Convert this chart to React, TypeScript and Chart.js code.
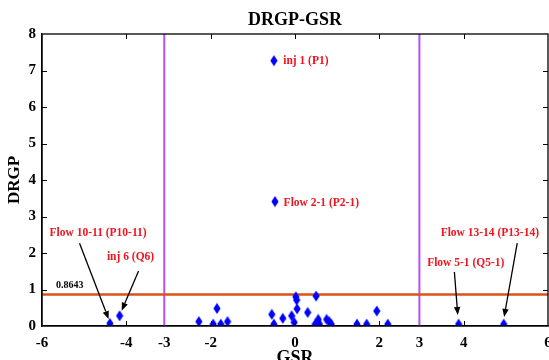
import React, { useEffect, useRef } from 'react';
import { Chart, registerables } from 'chart.js';

Chart.register(...registerables);

// ---- Data ----
const GSR_X = [
  -4.39, -4.16, -2.28, -1.94, -1.85, -1.76, -1.6, -0.55, -0.5, -0.29, -0.08, -0.02,
  0.02, 0.04, 0.05, 0.3, 0.5, 0.48, 0.55, 0.58, 0.75, 0.81, 0.86, 1.47, 1.7, 1.94,
  2.2, 3.88, 4.95, -0.5, -0.475,
];
const DRGP_Y = [
  0.07, 0.28, 0.12, 0.05, 0.48, 0.05, 0.12, 0.32, 0.05, 0.21, 0.28, 0.1,
  0.8, 0.71, 0.47, 0.37, 0.82, 0.05, 0.18, 0.05, 0.18, 0.12, 0.05, 0.05, 0.05, 0.41,
  0.05, 0.05, 0.05, 7.27, 3.41,
];

const X_TICK_VALUES = [-6, -4, -3.1, -2, 0, 2, 2.95, 4, 6];
const X_TICK_LABELS = ['-6', '-4', '-3', '-2', '0', '2', '3', '4', '6'];
const X_MINOR_MARKS = [-4, -2, 0, 2, 4];
const Y_TICK_VALUES = [0, 1, 2, 3, 4, 5, 6, 7, 8];
const Y_MARKS = [1, 2, 3, 4, 5, 6, 7];

const VLINE_X = [-3.1, 2.95];
const HLINE_Y = 0.8643;
const HLINE_LABEL = '0.8643';
const HLINE_LABEL_X = -5.34;
const HLINE_LABEL_Y = 1.12;

const NOTE_TEXTS = ['inj 1 (P1)', 'Flow 2-1 (P2-1)', 'Flow 10-11 (P10-11)', 'inj 6 (Q6)', 'Flow 5-1 (Q5-1)', 'Flow 13-14 (P13-14)'];
const NOTE_X = [-0.28, -0.27, -4.67, -3.9, 4.05, 4.62];
const NOTE_Y = [7.27, 3.37, 2.55, 1.88, 1.72, 2.54];
const NOTE_ALIGN: CanvasTextAlign[] = ['left', 'left', 'center', 'center', 'center', 'center'];

const ARROW_FROM_X = [-5.11, -3.71, 3.78, 5.27];
const ARROW_FROM_Y = [2.27, 1.51, 1.48, 2.27];
const ARROW_TO_X = [-4.42, -4.11, 3.86, 4.96];
const ARROW_TO_Y = [0.19, 0.42, 0.3, 0.25];

const SERIF = '"Liberation Serif", "Times New Roman", serif';
const PURPLE = 'rgb(178, 82, 240)';
const ORANGE = '#D95319';
const RED = '#F0141E';

function makeDiamond(): HTMLCanvasElement {
  const c = document.createElement('canvas');
  c.width = 8;
  c.height = 12;
  const g = c.getContext('2d')!;
  g.fillStyle = '#0000FF';
  g.beginPath();
  g.moveTo(4, 0.5);
  g.lineTo(7.6, 6);
  g.lineTo(4, 11.5);
  g.lineTo(0.4, 6);
  g.closePath();
  g.fill();
  return c;
}

const zeroPadding = () => ({ left: 0, top: 0, right: 0, bottom: 0 });

const framePlugin = {
  id: 'framePlugin',
  afterDraw(chart: any) {
    const { ctx, chartArea: a, scales } = chart;
    const xs = scales.x;
    const ys = scales.y;
    ctx.save();
    // box
    ctx.strokeStyle = '#000';
    ctx.lineWidth = 1.3;
    ctx.strokeRect(a.left, a.top, a.right - a.left, a.bottom - a.top);
    // inward ticks
    const tl = 5;
    ctx.beginPath();
    X_MINOR_MARKS.forEach((v) => {
      const px = Math.round(xs.getPixelForValue(v)) + 0.5;
      ctx.moveTo(px, a.bottom);
      ctx.lineTo(px, a.bottom - tl);
      ctx.moveTo(px, a.top);
      ctx.lineTo(px, a.top + tl);
    });
    Y_MARKS.forEach((v) => {
      const py = Math.round(ys.getPixelForValue(v)) + 0.5;
      ctx.moveTo(a.left, py);
      ctx.lineTo(a.left + tl, py);
      ctx.moveTo(a.right, py);
      ctx.lineTo(a.right - tl, py);
    });
    ctx.lineWidth = 1;
    ctx.stroke();

    // threshold label
    ctx.fillStyle = '#000';
    ctx.font = `bold 10px ${SERIF}`;
    ctx.textAlign = 'center';
    ctx.textBaseline = 'middle';
    ctx.fillText(HLINE_LABEL, xs.getPixelForValue(HLINE_LABEL_X), ys.getPixelForValue(HLINE_LABEL_Y));

    // notes
    ctx.fillStyle = RED;
    ctx.font = `bold 11.5px ${SERIF}`;
    NOTE_TEXTS.forEach((t, i) => {
      ctx.textAlign = NOTE_ALIGN[i];
      ctx.fillText(t, xs.getPixelForValue(NOTE_X[i]), ys.getPixelForValue(NOTE_Y[i]));
    });

    // arrows
    ctx.strokeStyle = '#000';
    ctx.fillStyle = '#000';
    ctx.lineWidth = 1.3;
    ARROW_FROM_X.forEach((_, i) => {
      const x1 = xs.getPixelForValue(ARROW_FROM_X[i]);
      const y1 = ys.getPixelForValue(ARROW_FROM_Y[i]);
      const x2 = xs.getPixelForValue(ARROW_TO_X[i]);
      const y2 = ys.getPixelForValue(ARROW_TO_Y[i]);
      const ang = Math.atan2(y2 - y1, x2 - x1);
      const hl = 8;
      const hw = 3.2;
      const bx = x2 - hl * Math.cos(ang);
      const by = y2 - hl * Math.sin(ang);
      ctx.beginPath();
      ctx.moveTo(x1, y1);
      ctx.lineTo(bx, by);
      ctx.stroke();
      ctx.beginPath();
      ctx.moveTo(x2, y2);
      ctx.lineTo(bx + hw * Math.sin(ang), by - hw * Math.cos(ang));
      ctx.lineTo(bx - hw * Math.sin(ang), by + hw * Math.cos(ang));
      ctx.closePath();
      ctx.fill();
    });
    ctx.restore();
  },
};

export default function App() {
  const ref = useRef<HTMLCanvasElement | null>(null);

  useEffect(() => {
    if (!ref.current) return;
    const diamond = makeDiamond();
    const points = GSR_X.map((x, i) => ({ x, y: DRGP_Y[i] }));
    const datasets: any[] = [
      {
        type: 'scatter',
        data: points,
        pointStyle: diamond,
        pointRadius: 5,
        showLine: false,
      },
      {
        type: 'line',
        data: [{ x: -6, y: HLINE_Y }, { x: 6, y: HLINE_Y }],
        borderColor: ORANGE,
        borderWidth: 2.5,
        pointRadius: 0,
        showLine: true,
      },
      ...VLINE_X.map((vx) => ({
        type: 'line',
        data: [{ x: vx, y: 0 }, { x: vx, y: 8 }],
        borderColor: PURPLE,
        borderWidth: 2,
        pointRadius: 0,
        showLine: true,
      })),
    ];

    const chart = new Chart(ref.current, {
      type: 'scatter',
      data: { datasets },
      options: {
        animation: false,
        responsive: false,
        devicePixelRatio: 1,
        layout: { autoPadding: false, padding: { left: 0, right: 1, top: 0, bottom: 0 } },
        plugins: {
          legend: { display: false },
          tooltip: { enabled: false },
          title: {
            display: true,
            text: 'DRGP-GSR',
            color: '#000',
            fullSize: false,
            font: { family: SERIF, size: 18, weight: 'bold' },
            padding: { top: 10, bottom: 2.4 },
          },
        },
        scales: {
          x: {
            type: 'linear',
            min: -6,
            max: 6,
            afterBuildTicks: (s: any) => {
              s.ticks = X_TICK_VALUES.map((v) => ({ value: v }));
            },
            afterFit: (s: any) => {
              s.height = 34;
              s.paddingLeft = 0;
              s.paddingRight = 0;
              s.getPadding = zeroPadding;
            },
            ticks: {
              autoSkip: false,
              maxRotation: 0,
              padding: 8,
              color: '#000',
              font: { family: SERIF, size: 15, weight: 'bold' },
              callback: (_v: any, i: number) => X_TICK_LABELS[i],
            },
            grid: { display: false, drawTicks: false },
            border: { display: true, color: '#000', width: 1.3 },
            title: {
              display: true,
              text: 'GSR',
              color: '#000',
              font: { family: SERIF, size: 18, weight: 'bold', lineHeight: 1 },
              padding: { top: 0, bottom: -7 },
            },
          },
          y: {
            type: 'linear',
            min: 0,
            max: 8,
            afterBuildTicks: (s: any) => {
              s.ticks = Y_TICK_VALUES.map((v) => ({ value: v }));
            },
            afterFit: (s: any) => {
              s.width = 42;
              s.paddingTop = 0;
              s.paddingBottom = 0;
              s.getPadding = zeroPadding;
            },
            ticks: {
              padding: 6,
              color: '#000',
              font: { family: SERIF, size: 15, weight: 'bold' },
              callback: (v: any) => String(v),
            },
            grid: { display: false, drawTicks: false },
            border: { display: true, color: '#000', width: 1.3 },
            title: {
              display: true,
              text: 'DRGP',
              color: '#000',
              font: { family: SERIF, size: 17, weight: 'bold', lineHeight: 1 },
              padding: { top: 6, bottom: 0 },
            },
          },
        },
      },
      plugins: [framePlugin],
    } as any);
    return () => chart.destroy();
  }, []);

  return (
    <div style={{ position: 'absolute', left: 0, top: 0, width: 549, height: 360, background: '#fff' }}>
      <canvas ref={ref} width={549} height={360} />
    </div>
  );
}
